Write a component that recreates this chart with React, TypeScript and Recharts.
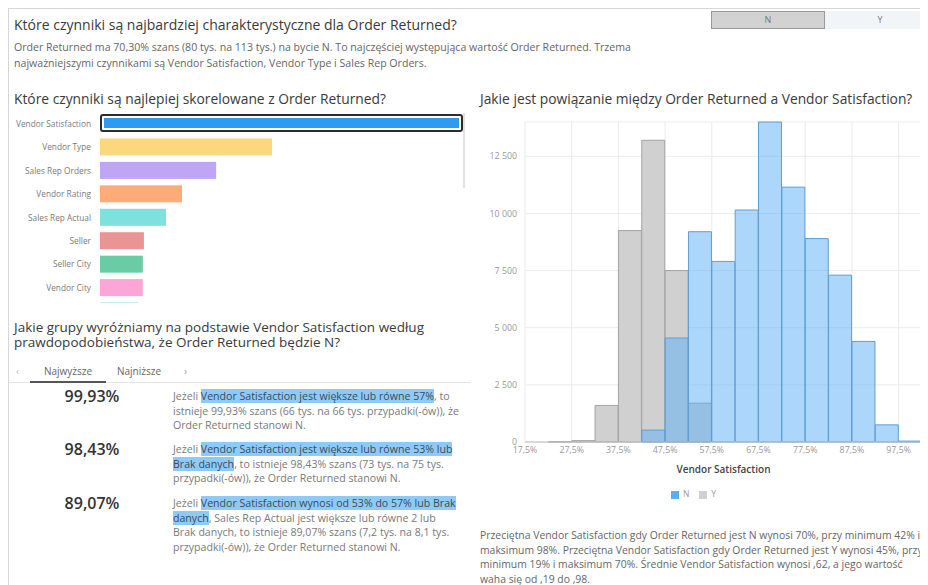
import { BarChart, Bar, Cell, XAxis, YAxis, CartesianGrid, Legend } from 'recharts'

const factorNames = ['Vendor Satisfaction', 'Vendor Type', 'Sales Rep Orders', 'Vendor Rating', 'Sales Rep Actual', 'Seller', 'Seller City', 'Vendor City', 'Sales Rep']
const factorScores = [1, 0.474, 0.32, 0.226, 0.182, 0.121, 0.118, 0.118, 0.105]
const factorColors = ['#2e9bf0', '#fbd87c', '#bfa5f6', '#fdac79', '#7ee1dd', '#e89594', '#6acca4', '#fba6d6', '#7fd4ea']

const binStarts = [17.5, 22.5, 27.5, 32.5, 37.5, 42.5, 47.5, 52.5, 57.5, 62.5, 67.5, 72.5, 77.5, 82.5, 87.5, 92.5, 97.5]
const nCounts = [0, 0, 0, 0, 0, 520, 4550, 9200, 7900, 10150, 14000, 11150, 8900, 7300, 4400, 750, 40]
const yCounts = [0, 10, 60, 1600, 9250, 13200, 7500, 1700, 0, 0, 0, 0, 0, 0, 0, 0, 0]
const xTicks = [17.5, 27.5, 37.5, 47.5, 57.5, 67.5, 77.5, 87.5, 97.5]
const yTicks = [0, 2500, 5000, 7500, 10000, 12500]

const factorData = factorNames.map((name, i) => ({ name, score: factorScores[i] }))
const histData = binStarts.map((bin, i) => ({ bin, N: nCounts[i], Y: yCounts[i] }))

const FONT = '"Segoe UI", "Open Sans", sans-serif'

const fmtThousands = (v: number) => String(v).replace(/\B(?=(\d{3})+(?!\d))/g, ' ')
const fmtPct = (v: number) => v.toFixed(1).replace('.', ',') + '%'

function FactorBar(props: any) {
  const { x, y, width, height, fill, index } = props
  if (index === 0) {
    return (
      <g>
        <rect x={x + 1} y={y} width={width - 2} height={height - 1} rx={2} fill="none" stroke="#2b2b2b" strokeWidth={2} />
        <rect x={x + 4} y={y + 3} width={width - 8} height={height - 7} fill={fill} />
      </g>
    )
  }
  return <rect x={x} y={y} width={width} height={height} fill={fill} />
}

function FactorTick({ x, y, payload }: any) {
  return (
    <text x={x} y={y} dy={3} textAnchor="end" fontSize={8.3} fill="#7a7a7a" fontFamily={FONT}>
      {payload.value}
    </text>
  )
}

const hl = { background: '#8fcaf7', color: '#3a4a5a' }

function Rule({ pct, top, children }: { pct: string; top: number; children: any }) {
  return (
    <div style={{ position: 'absolute', left: 0, top, width: 470 }}>
      <div style={{ position: 'absolute', left: 43, top: -4, width: 80, textAlign: 'center', fontSize: 16, fontWeight: 600, color: '#333' }}>{pct}</div>
      <div style={{ position: 'absolute', left: 164, top: 0, width: 300, fontSize: 10.6, lineHeight: '14.5px', color: '#7a7a7a', whiteSpace: 'nowrap' }}>{children}</div>
    </div>
  )
}

export default function App() {
  return (
    <div style={{ position: 'relative', width: 920, height: 577, overflow: 'hidden', fontFamily: FONT, borderTop: '1px solid #d6d6d6', borderLeft: '1px solid #d6d6d6', boxSizing: 'border-box', background: '#fff' }}>
      {/* header */}
      <div style={{ position: 'absolute', left: 5, top: 6, fontSize: 14, color: '#3a3a3a', whiteSpace: 'nowrap' }}>
        Które czynniki są najbardziej charakterystyczne dla Order Returned?
      </div>
      <div style={{ position: 'absolute', left: 5, top: 30, fontSize: 10.6, lineHeight: '16px', color: '#666', whiteSpace: 'nowrap' }}>
        Order Returned ma 70,30% szans (80 tys. na 113 tys.) na bycie N. To najczęściej występująca wartość Order Returned. Trzema
        <br />
        najważniejszymi czynnikami są Vendor Satisfaction, Vendor Type i Sales Rep Orders.
      </div>
      <div style={{ position: 'absolute', left: 702, top: 2, width: 112, height: 16, background: '#d2d2d2', border: '1px solid #999', fontSize: 9, color: '#777', textAlign: 'center', lineHeight: '16px' }}>N</div>
      <div style={{ position: 'absolute', left: 816, top: 2, width: 110, height: 18, background: '#f2f5f8', fontSize: 9, color: '#777', textAlign: 'center', lineHeight: '18px' }}>Y</div>

      {/* factors */}
      <div style={{ position: 'absolute', left: 5, top: 80, fontSize: 13.8, color: '#3a3a3a', whiteSpace: 'nowrap' }}>
        Które czynniki są najlepiej skorelowane z Order Returned?
      </div>
      <div style={{ position: 'absolute', left: -1, top: 103, width: 470, height: 191, overflow: 'hidden' }}>
        <BarChart layout="vertical" width={462} height={211} data={factorData} margin={{ top: 0, right: 7, left: 0, bottom: 0 }} barCategoryGap={3}>
          <XAxis type="number" hide domain={[0, 1]} />
          <YAxis type="category" dataKey="name" width={92} tickLine={false} axisLine={false} tickMargin={3} interval={0} tick={<FactorTick />} />
          <Bar dataKey="score" isAnimationActive={false} shape={FactorBar}>
            {factorData.map((d, i) => (
              <Cell key={d.name} fill={factorColors[i]} />
            ))}
          </Bar>
        </BarChart>
      </div>
      <div style={{ position: 'absolute', left: 454, top: 104, width: 2, height: 75, background: '#e2e2e2' }} />

      {/* groups */}
      <div style={{ position: 'absolute', left: 5, top: 311, fontSize: 13.5, lineHeight: '15px', color: '#3a3a3a', whiteSpace: 'nowrap' }}>
        Jakie grupy wyróżniamy na podstawie Vendor Satisfaction według
        <br />
        prawdopodobieństwa, że Order Returned będzie N?
      </div>
      <div style={{ position: 'absolute', left: 0, top: 354, width: 462, height: 19, borderBottom: '1px solid #e4e4e4', fontSize: 10, color: '#666' }}>
        <span style={{ position: 'absolute', left: 7, top: 1, color: '#bbb' }}>‹</span>
        <span style={{ position: 'absolute', left: 21, top: 1, width: 76, textAlign: 'center', height: 17, borderBottom: '2px solid #555' }}>Najwyższe</span>
        <span style={{ position: 'absolute', left: 108, top: 1 }}>Najniższe</span>
        <span style={{ position: 'absolute', left: 175, top: 1, color: '#999' }}>›</span>
      </div>
      <Rule pct="99,93%" top={380}>
        Jeżeli <span style={hl}>Vendor Satisfaction jest większe lub równe 57%</span>, to
        <br />
        istnieje 99,93% szans (66 tys. na 66 tys. przypadki(-ów)), że
        <br />
        Order Returned stanowi N.
      </Rule>
      <Rule pct="98,43%" top={433}>
        Jeżeli <span style={hl}>Vendor Satisfaction jest większe lub równe 53% lub</span>
        <br />
        <span style={hl}>Brak danych</span>, to istnieje 98,43% szans (73 tys. na 75 tys.
        <br />
        przypadki(-ów)), że Order Returned stanowi N.
      </Rule>
      <Rule pct="89,07%" top={487}>
        Jeżeli <span style={hl}>Vendor Satisfaction wynosi od 53% do 57% lub Brak</span>
        <br />
        <span style={hl}>danych</span>, Sales Rep Actual jest większe lub równe 2 lub
        <br />
        Brak danych, to istnieje 89,07% szans (7,2 tys. na 8,1 tys.
        <br />
        przypadki(-ów)), że Order Returned stanowi N.
      </Rule>

      {/* histogram */}
      <div style={{ position: 'absolute', left: 471, top: 80, fontSize: 13.8, color: '#3a3a3a', whiteSpace: 'nowrap' }}>
        Jakie jest powiązanie między Order Returned a Vendor Satisfaction?
      </div>
      <div style={{ position: 'absolute', left: 461, top: 101 }}>
        <BarChart width={458} height={393} data={histData} margin={{ top: 12, right: 6, left: 5, bottom: 4 }} barCategoryGap={0}>
          <CartesianGrid xAxisId="num" stroke="#ebebeb" />
          <XAxis
            xAxisId="num"
            type="number"
            dataKey="bin"
            domain={[17.5, 102.5]}
            allowDataOverflow
            ticks={xTicks}
            interval={0}
            tickFormatter={fmtPct}
            tickLine={false}
            tickSize={3}
            axisLine={{ stroke: '#bdbdbd' }}
            tick={{ fontSize: 8.8, fill: '#999', fontFamily: FONT }}
            height={46}
            label={{ value: 'Vendor Satisfaction', position: 'insideBottom', offset: 15, style: { fontSize: 10, fontWeight: 600, fill: '#444', fontFamily: FONT } }}
          />
          <XAxis xAxisId="y" dataKey="bin" hide height={0} />
          <XAxis xAxisId="n" dataKey="bin" hide height={0} />
          <YAxis
            domain={[0, 14000]}
            ticks={yTicks}
            tickFormatter={fmtThousands}
            axisLine={false}
            tickLine={false}
            width={50}
            tick={{ fontSize: 8.8, fill: '#999', fontFamily: FONT }}
          />
          <Legend
            verticalAlign="bottom"
            align="center"
            iconType="square"
            iconSize={8}
            wrapperStyle={{ fontSize: 8.5, fontFamily: FONT }}
            formatter={(v: string) => <span style={{ color: '#999' }}>{v}</span>}
          />
          <Bar xAxisId="y" dataKey="Y" name="Y" fill="#d0d0d0" stroke="#a3a3a3" strokeWidth={1} isAnimationActive={false} />
          <Bar xAxisId="n" dataKey="N" name="N" fill="#5aaef5" fillOpacity={0.5} stroke="#5f9fd4" strokeWidth={1} isAnimationActive={false} />
        </BarChart>
      </div>
      <div style={{ position: 'absolute', left: 471, top: 519, fontSize: 10.4, lineHeight: '14.5px', color: '#666', whiteSpace: 'nowrap' }}>
        Przeciętna Vendor Satisfaction gdy Order Returned jest N wynosi 70%, przy minimum 42% i
        <br />
        maksimum 98%. Przeciętna Vendor Satisfaction gdy Order Returned jest Y wynosi 45%, przy
        <br />
        minimum 19% i maksimum 70%. Średnie Vendor Satisfaction wynosi ,62, a jego wartość
        <br />
        waha się od ,19 do ,98.
      </div>
    </div>
  )
}
